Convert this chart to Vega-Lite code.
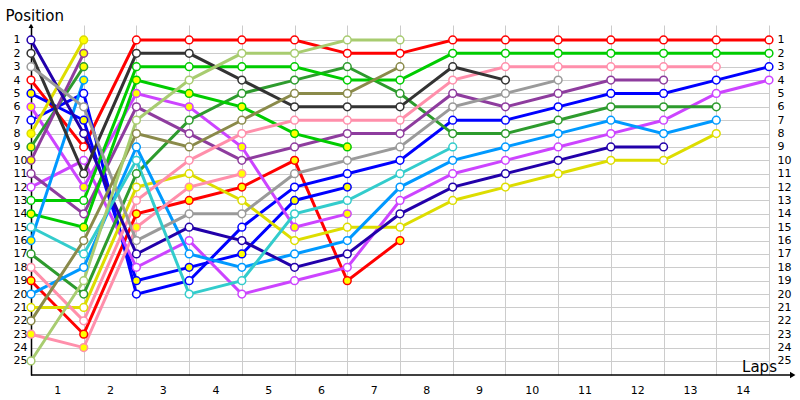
{
  "$schema": "https://vega.github.io/schema/vega-lite/v6.json",
  "width": 738,
  "height": 350,
  "autosize": {"type": "none"},
  "padding": {"left": 31, "top": 25, "right": 31, "bottom": 25},
  "background": "white",
  "config": {
    "view": {"stroke": null},
    "axis": {"labelFont": "DejaVu Sans", "labelFontSize": 11, "labelColor": "#000000", "titleFont": "DejaVu Sans", "titleColor": "#000000", "titleFontWeight": "normal", "titleFontSize": 14, "gridColor": "#cccccc", "gridWidth": 1, "tickSize": 0}
  },
  "datasets": {
    "laps": [
      {"d":"A","lap":0,"pos":4},{"d":"A","lap":1,"pos":9},{"d":"A","lap":2,"pos":1},{"d":"A","lap":3,"pos":1},{"d":"A","lap":4,"pos":1},{"d":"A","lap":5,"pos":1},{"d":"A","lap":6,"pos":2},{"d":"A","lap":7,"pos":2},{"d":"A","lap":8,"pos":1},{"d":"A","lap":9,"pos":1},{"d":"A","lap":10,"pos":1},{"d":"A","lap":11,"pos":1},{"d":"A","lap":12,"pos":1},{"d":"A","lap":13,"pos":1},{"d":"A","lap":14,"pos":1},
      {"d":"B","lap":0,"pos":19},{"d":"B","lap":1,"pos":23},{"d":"B","lap":2,"pos":14},{"d":"B","lap":3,"pos":13},{"d":"B","lap":4,"pos":12},{"d":"B","lap":5,"pos":10},{"d":"B","lap":6,"pos":19},{"d":"B","lap":7,"pos":16},
      {"d":"C","lap":0,"pos":7},{"d":"C","lap":1,"pos":5},{"d":"C","lap":2,"pos":20},{"d":"C","lap":3,"pos":19},{"d":"C","lap":4,"pos":15},{"d":"C","lap":5,"pos":12},{"d":"C","lap":6,"pos":11},{"d":"C","lap":7,"pos":10},{"d":"C","lap":8,"pos":7},{"d":"C","lap":9,"pos":7},{"d":"C","lap":10,"pos":6},{"d":"C","lap":11,"pos":5},{"d":"C","lap":12,"pos":5},{"d":"C","lap":13,"pos":4},{"d":"C","lap":14,"pos":3},
      {"d":"D","lap":0,"pos":5},{"d":"D","lap":1,"pos":7},{"d":"D","lap":2,"pos":19},{"d":"D","lap":3,"pos":18},{"d":"D","lap":4,"pos":17},{"d":"D","lap":5,"pos":13},{"d":"D","lap":6,"pos":12},
      {"d":"E","lap":0,"pos":12},{"d":"E","lap":1,"pos":10},{"d":"E","lap":2,"pos":18},{"d":"E","lap":3,"pos":16},{"d":"E","lap":4,"pos":20},{"d":"E","lap":5,"pos":19},{"d":"E","lap":6,"pos":18},{"d":"E","lap":7,"pos":13},{"d":"E","lap":8,"pos":11},{"d":"E","lap":9,"pos":10},{"d":"E","lap":10,"pos":9},{"d":"E","lap":11,"pos":8},{"d":"E","lap":12,"pos":7},{"d":"E","lap":13,"pos":5},{"d":"E","lap":14,"pos":4},
      {"d":"F","lap":0,"pos":6},{"d":"F","lap":1,"pos":12},{"d":"F","lap":2,"pos":5},{"d":"F","lap":3,"pos":6},{"d":"F","lap":4,"pos":9},{"d":"F","lap":5,"pos":15},{"d":"F","lap":6,"pos":14},
      {"d":"G","lap":0,"pos":21},{"d":"G","lap":1,"pos":21},{"d":"G","lap":2,"pos":12},{"d":"G","lap":3,"pos":11},{"d":"G","lap":4,"pos":13},{"d":"G","lap":5,"pos":16},{"d":"G","lap":6,"pos":15},{"d":"G","lap":7,"pos":15},{"d":"G","lap":8,"pos":13},{"d":"G","lap":9,"pos":12},{"d":"G","lap":10,"pos":11},{"d":"G","lap":11,"pos":10},{"d":"G","lap":12,"pos":10},{"d":"G","lap":13,"pos":8},
      {"d":"H","lap":0,"pos":8},{"d":"H","lap":1,"pos":1},
      {"d":"I","lap":0,"pos":17},{"d":"I","lap":1,"pos":20},{"d":"I","lap":2,"pos":11},{"d":"I","lap":3,"pos":7},{"d":"I","lap":4,"pos":5},{"d":"I","lap":5,"pos":4},{"d":"I","lap":6,"pos":3},{"d":"I","lap":7,"pos":5},{"d":"I","lap":8,"pos":8},{"d":"I","lap":9,"pos":8},{"d":"I","lap":10,"pos":7},{"d":"I","lap":11,"pos":6},{"d":"I","lap":12,"pos":6},{"d":"I","lap":13,"pos":6},
      {"d":"J","lap":0,"pos":9},{"d":"J","lap":1,"pos":3},
      {"d":"K","lap":0,"pos":11},{"d":"K","lap":1,"pos":14},{"d":"K","lap":2,"pos":6},{"d":"K","lap":3,"pos":8},{"d":"K","lap":4,"pos":10},{"d":"K","lap":5,"pos":9},{"d":"K","lap":6,"pos":8},{"d":"K","lap":7,"pos":8},{"d":"K","lap":8,"pos":5},{"d":"K","lap":9,"pos":6},{"d":"K","lap":10,"pos":5},{"d":"K","lap":11,"pos":4},{"d":"K","lap":12,"pos":4},
      {"d":"L","lap":0,"pos":10},{"d":"L","lap":1,"pos":2},
      {"d":"M","lap":0,"pos":13},{"d":"M","lap":1,"pos":13},{"d":"M","lap":2,"pos":3},{"d":"M","lap":3,"pos":3},{"d":"M","lap":4,"pos":3},{"d":"M","lap":5,"pos":3},{"d":"M","lap":6,"pos":4},{"d":"M","lap":7,"pos":4},{"d":"M","lap":8,"pos":2},{"d":"M","lap":9,"pos":2},{"d":"M","lap":10,"pos":2},{"d":"M","lap":11,"pos":2},{"d":"M","lap":12,"pos":2},{"d":"M","lap":13,"pos":2},{"d":"M","lap":14,"pos":2},
      {"d":"N","lap":0,"pos":14},{"d":"N","lap":1,"pos":15},{"d":"N","lap":2,"pos":4},{"d":"N","lap":3,"pos":5},{"d":"N","lap":4,"pos":6},{"d":"N","lap":5,"pos":8},{"d":"N","lap":6,"pos":9},
      {"d":"O","lap":0,"pos":20},{"d":"O","lap":1,"pos":18},{"d":"O","lap":2,"pos":9},{"d":"O","lap":3,"pos":17},{"d":"O","lap":4,"pos":18},{"d":"O","lap":5,"pos":17},{"d":"O","lap":6,"pos":16},{"d":"O","lap":7,"pos":12},{"d":"O","lap":8,"pos":10},{"d":"O","lap":9,"pos":9},{"d":"O","lap":10,"pos":8},{"d":"O","lap":11,"pos":7},{"d":"O","lap":12,"pos":8},{"d":"O","lap":13,"pos":7},
      {"d":"P","lap":0,"pos":16},{"d":"P","lap":1,"pos":4},
      {"d":"Q","lap":0,"pos":18},{"d":"Q","lap":1,"pos":22},{"d":"Q","lap":2,"pos":13},{"d":"Q","lap":3,"pos":10},{"d":"Q","lap":4,"pos":8},{"d":"Q","lap":5,"pos":7},{"d":"Q","lap":6,"pos":7},{"d":"Q","lap":7,"pos":7},{"d":"Q","lap":8,"pos":4},{"d":"Q","lap":9,"pos":3},{"d":"Q","lap":10,"pos":3},{"d":"Q","lap":11,"pos":3},{"d":"Q","lap":12,"pos":3},{"d":"Q","lap":13,"pos":3},
      {"d":"R","lap":0,"pos":23},{"d":"R","lap":1,"pos":24},{"d":"R","lap":2,"pos":15},{"d":"R","lap":3,"pos":12},{"d":"R","lap":4,"pos":11},
      {"d":"S","lap":0,"pos":1},{"d":"S","lap":1,"pos":8},{"d":"S","lap":2,"pos":17},{"d":"S","lap":3,"pos":15},{"d":"S","lap":4,"pos":16},{"d":"S","lap":5,"pos":18},{"d":"S","lap":6,"pos":17},{"d":"S","lap":7,"pos":14},{"d":"S","lap":8,"pos":12},{"d":"S","lap":9,"pos":11},{"d":"S","lap":10,"pos":10},{"d":"S","lap":11,"pos":9},{"d":"S","lap":12,"pos":9},
      {"d":"T","lap":0,"pos":2},{"d":"T","lap":1,"pos":11},{"d":"T","lap":2,"pos":2},{"d":"T","lap":3,"pos":2},{"d":"T","lap":4,"pos":4},{"d":"T","lap":5,"pos":6},{"d":"T","lap":6,"pos":6},{"d":"T","lap":7,"pos":6},{"d":"T","lap":8,"pos":3},{"d":"T","lap":9,"pos":4},
      {"d":"U","lap":0,"pos":3},{"d":"U","lap":1,"pos":6},{"d":"U","lap":2,"pos":16},{"d":"U","lap":3,"pos":14},{"d":"U","lap":4,"pos":14},{"d":"U","lap":5,"pos":11},{"d":"U","lap":6,"pos":10},{"d":"U","lap":7,"pos":9},{"d":"U","lap":8,"pos":6},{"d":"U","lap":9,"pos":5},{"d":"U","lap":10,"pos":4},
      {"d":"V","lap":0,"pos":15},{"d":"V","lap":1,"pos":17},{"d":"V","lap":2,"pos":10},{"d":"V","lap":3,"pos":20},{"d":"V","lap":4,"pos":19},{"d":"V","lap":5,"pos":14},{"d":"V","lap":6,"pos":13},{"d":"V","lap":7,"pos":11},{"d":"V","lap":8,"pos":9},
      {"d":"W","lap":0,"pos":22},{"d":"W","lap":1,"pos":16},{"d":"W","lap":2,"pos":8},{"d":"W","lap":3,"pos":9},{"d":"W","lap":4,"pos":7},{"d":"W","lap":5,"pos":5},{"d":"W","lap":6,"pos":5},{"d":"W","lap":7,"pos":3},
      {"d":"X","lap":0,"pos":25},{"d":"X","lap":1,"pos":19},{"d":"X","lap":2,"pos":7},{"d":"X","lap":3,"pos":4},{"d":"X","lap":4,"pos":2},{"d":"X","lap":5,"pos":2},{"d":"X","lap":6,"pos":1},{"d":"X","lap":7,"pos":1}
    ]
  },
  "resolve": {"axis": {"x": "independent", "y": "independent"}},
  "layer": [
    {
      "data": {"name": "laps"},
      "mark": {"type": "line", "strokeWidth": 3},
      "encoding": {
        "x": {"field": "lap", "type": "quantitative", "scale": {"domain": [0, 14], "nice": false, "zero": false},
              "axis": {"orient": "bottom", "values": [0.5,1.5,2.5,3.5,4.5,5.5,6.5,7.5,8.5,9.5,10.5,11.5,12.5,13.5], "labelExpr": "datum.value + 0.5", "grid": false, "ticks": false, "domain": false, "labelPadding": 9, "title": "Laps", "titleFontSize": 15, "titleX": 728, "titleY": -4, "titleAlign": "center", "titleBaseline": "alphabetic"}},
        "y": {"field": "pos", "type": "quantitative", "scale": {"domain": [-0.12, 26.05], "nice": false, "zero": false, "reverse": true},
              "axis": {"orient": "left", "values": [1,2,3,4,5,6,7,8,9,10,11,12,13,14,15,16,17,18,19,20,21,22,23,24,25], "grid": true, "ticks": false, "domain": true, "domainColor": "#000000", "domainWidth": 1.5, "labelAlign": "left", "labelPadding": 18, "title": "Position", "titleAngle": 0, "titleX": -26, "titleY": -5, "titleAlign": "left", "titleBaseline": "alphabetic", "titleFontSize": 15}},
        "color": {"field": "d", "type": "nominal", "legend": null,
                  "scale": {"domain": ["A","B","C","D","E","F","G","H","I","J","K","L","M","N","O","P","Q","R","S","T","U","V","W","X"],
                            "range": ["#ff0000","#ff0000","#0000ff","#0000ff","#cc44ff","#cc44ff","#dddd00","#dddd00","#2d9b2d","#2d9b2d","#8e3c9e","#8e3c9e","#00cc00","#00cc00","#0099ff","#0099ff","#ff8fab","#ff8fab","#2200aa","#333333","#9a9a9a","#33cccc","#8a8a4a","#a8cc70"]}}
      }
    },
    {
      "data": {"name": "laps"},
      "mark": {"type": "point", "shape": "circle", "size": 60, "strokeWidth": 1.5, "opacity": 1, "filled": false},
      "encoding": {
        "x": {"field": "lap", "type": "quantitative",
              "axis": {"orient": "top", "values": [1,2,3,4,5,6,7,8,9,10,11,12,13,14], "grid": true, "labels": false, "ticks": false, "domain": false, "title": null}},
        "y": {"field": "pos", "type": "quantitative",
              "axis": {"orient": "right", "values": [1,2,3,4,5,6,7,8,9,10,11,12,13,14,15,16,17,18,19,20,21,22,23,24,25], "grid": false, "ticks": false, "domain": false, "labelPadding": 8, "labelAlign": "left", "title": null}},
        "stroke": {"field": "d", "type": "nominal", "legend": null,
                  "scale": {"domain": ["A","B","C","D","E","F","G","H","I","J","K","L","M","N","O","P","Q","R","S","T","U","V","W","X"],
                            "range": ["#ff0000","#ff0000","#0000ff","#0000ff","#cc44ff","#cc44ff","#dddd00","#dddd00","#2d9b2d","#2d9b2d","#8e3c9e","#8e3c9e","#00cc00","#00cc00","#0099ff","#0099ff","#ff8fab","#ff8fab","#2200aa","#333333","#9a9a9a","#33cccc","#8a8a4a","#a8cc70"]}},
        "fill": {"field": "d", "type": "nominal", "legend": null,
                  "scale": {"domain": ["A","B","C","D","E","F","G","H","I","J","K","L","M","N","O","P","Q","R","S","T","U","V","W","X"],
                            "range": ["#ffffff","#ffff00","#ffffff","#ffff00","#ffffff","#ffff00","#ffffff","#ffff00","#ffffff","#ffff00","#ffffff","#ffff00","#ffffff","#ffff00","#ffffff","#ffff00","#ffffff","#ffff00","#ffffff","#ffffff","#ffffff","#ffffff","#ffffff","#ffffff"]}}
      }
    },
    {
      "data": {"values": [{}]},
      "mark": {"type": "rule", "color": "#000000", "strokeWidth": 1.5},
      "encoding": {
        "x": {"datum": 0, "type": "quantitative", "axis": null},
        "x2": {"datum": 14.4},
        "y": {"datum": 26.05, "type": "quantitative", "axis": null}
      }
    },
    {
      "data": {"values": [{}]},
      "mark": {"type": "point", "shape": "triangle-right", "size": 40, "filled": true, "color": "#000000", "opacity": 1},
      "encoding": {
        "x": {"datum": 14.45, "type": "quantitative", "axis": null},
        "y": {"datum": 26.05, "type": "quantitative", "axis": null}
      }
    },
    {
      "data": {"values": [{}]},
      "mark": {"type": "point", "shape": "triangle-up", "size": 25, "filled": true, "color": "#000000", "opacity": 1},
      "encoding": {
        "x": {"datum": 0, "type": "quantitative", "axis": null},
        "y": {"datum": -0.05, "type": "quantitative", "axis": null}
      }
    }
  ]
}
